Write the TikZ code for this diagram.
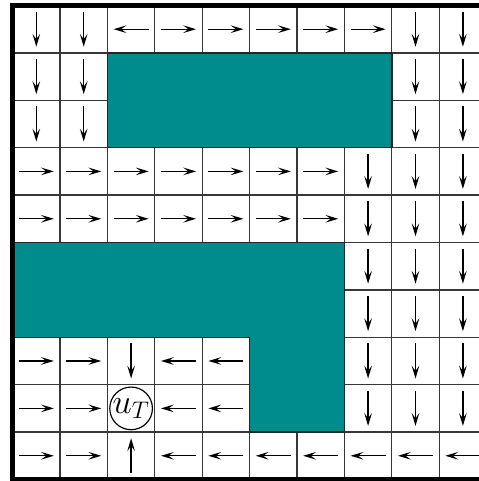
\documentclass[tikz,border=0pt]{standalone}
\usepackage{amsmath}
\usepackage{xcolor}
\definecolor{obstacle}{RGB}{0, 140, 140}
\definecolor{gridgray}{RGB}{55, 55, 55}
\usepackage{tikz}
\usetikzlibrary{arrows.meta}

\begin{document}
\begin{tikzpicture}[
  cellline/.style={gridgray, line width=0.8pt},
  wall/.style={fill=obstacle, draw=black!85, line width=0.9pt},
  flow/.style={-{Stealth[length=2.7mm, width=1.6mm, inset=1.1mm]}, line width=0.75pt},
  target/.style={circle, draw, line width=0.7pt, fill=white, minimum size=0.9cm, inner sep=0pt, font=\fontsize{22}{22}\selectfont}
]
\useasboundingbox (-0.266,-0.032) rectangle (9.819,10.116);

% rejilla
\draw[cellline] (0,0) grid (10,10);

% obstaculos
\draw[wall] (2,7) rectangle (8,9);
\draw[wall] (0,5) -- (7,5) -- (7,1) -- (5,1) -- (5,3) -- (0,3) -- cycle;

% flechas (columna/fila, fila 1 arriba)
\foreach \c/\r in {1/1,2/1,9/1,10/1, 1/2,2/2,9/2,10/2, 1/3,2/3,9/3,10/3,
                   8/4,9/4,10/4, 8/5,9/5,10/5, 8/6,9/6,10/6, 8/7,9/7,10/7,
                   3/8,8/8,9/8,10/8, 8/9,9/9,10/9}
  \draw[flow] ({\c-0.5},{10.87-\r}) -- ++(0,-0.74);
\foreach \c/\r in {4/1,5/1,6/1,7/1,8/1, 1/4,2/4,3/4,4/4,5/4,6/4,7/4,
                   1/5,2/5,3/5,4/5,5/5,6/5,7/5, 1/8,2/8, 1/9,2/9, 1/10,2/10}
  \draw[flow] ({\c-0.87},{10.5-\r}) -- ++(0.74,0);
\foreach \c/\r in {3/1, 4/8,5/8, 4/9,5/9, 4/10,5/10,6/10,7/10,8/10,9/10,10/10}
  \draw[flow] ({\c-0.13},{10.5-\r}) -- ++(-0.74,0);
\draw[flow] (2.5,0.13) -- ++(0,0.74);

% objetivo
\node[target] (uT) at (2.5,1.5) {$u_T$};

% borde
\draw[line width=2.6pt] (0,0) rectangle (10,10);
\end{tikzpicture}
\end{document}
